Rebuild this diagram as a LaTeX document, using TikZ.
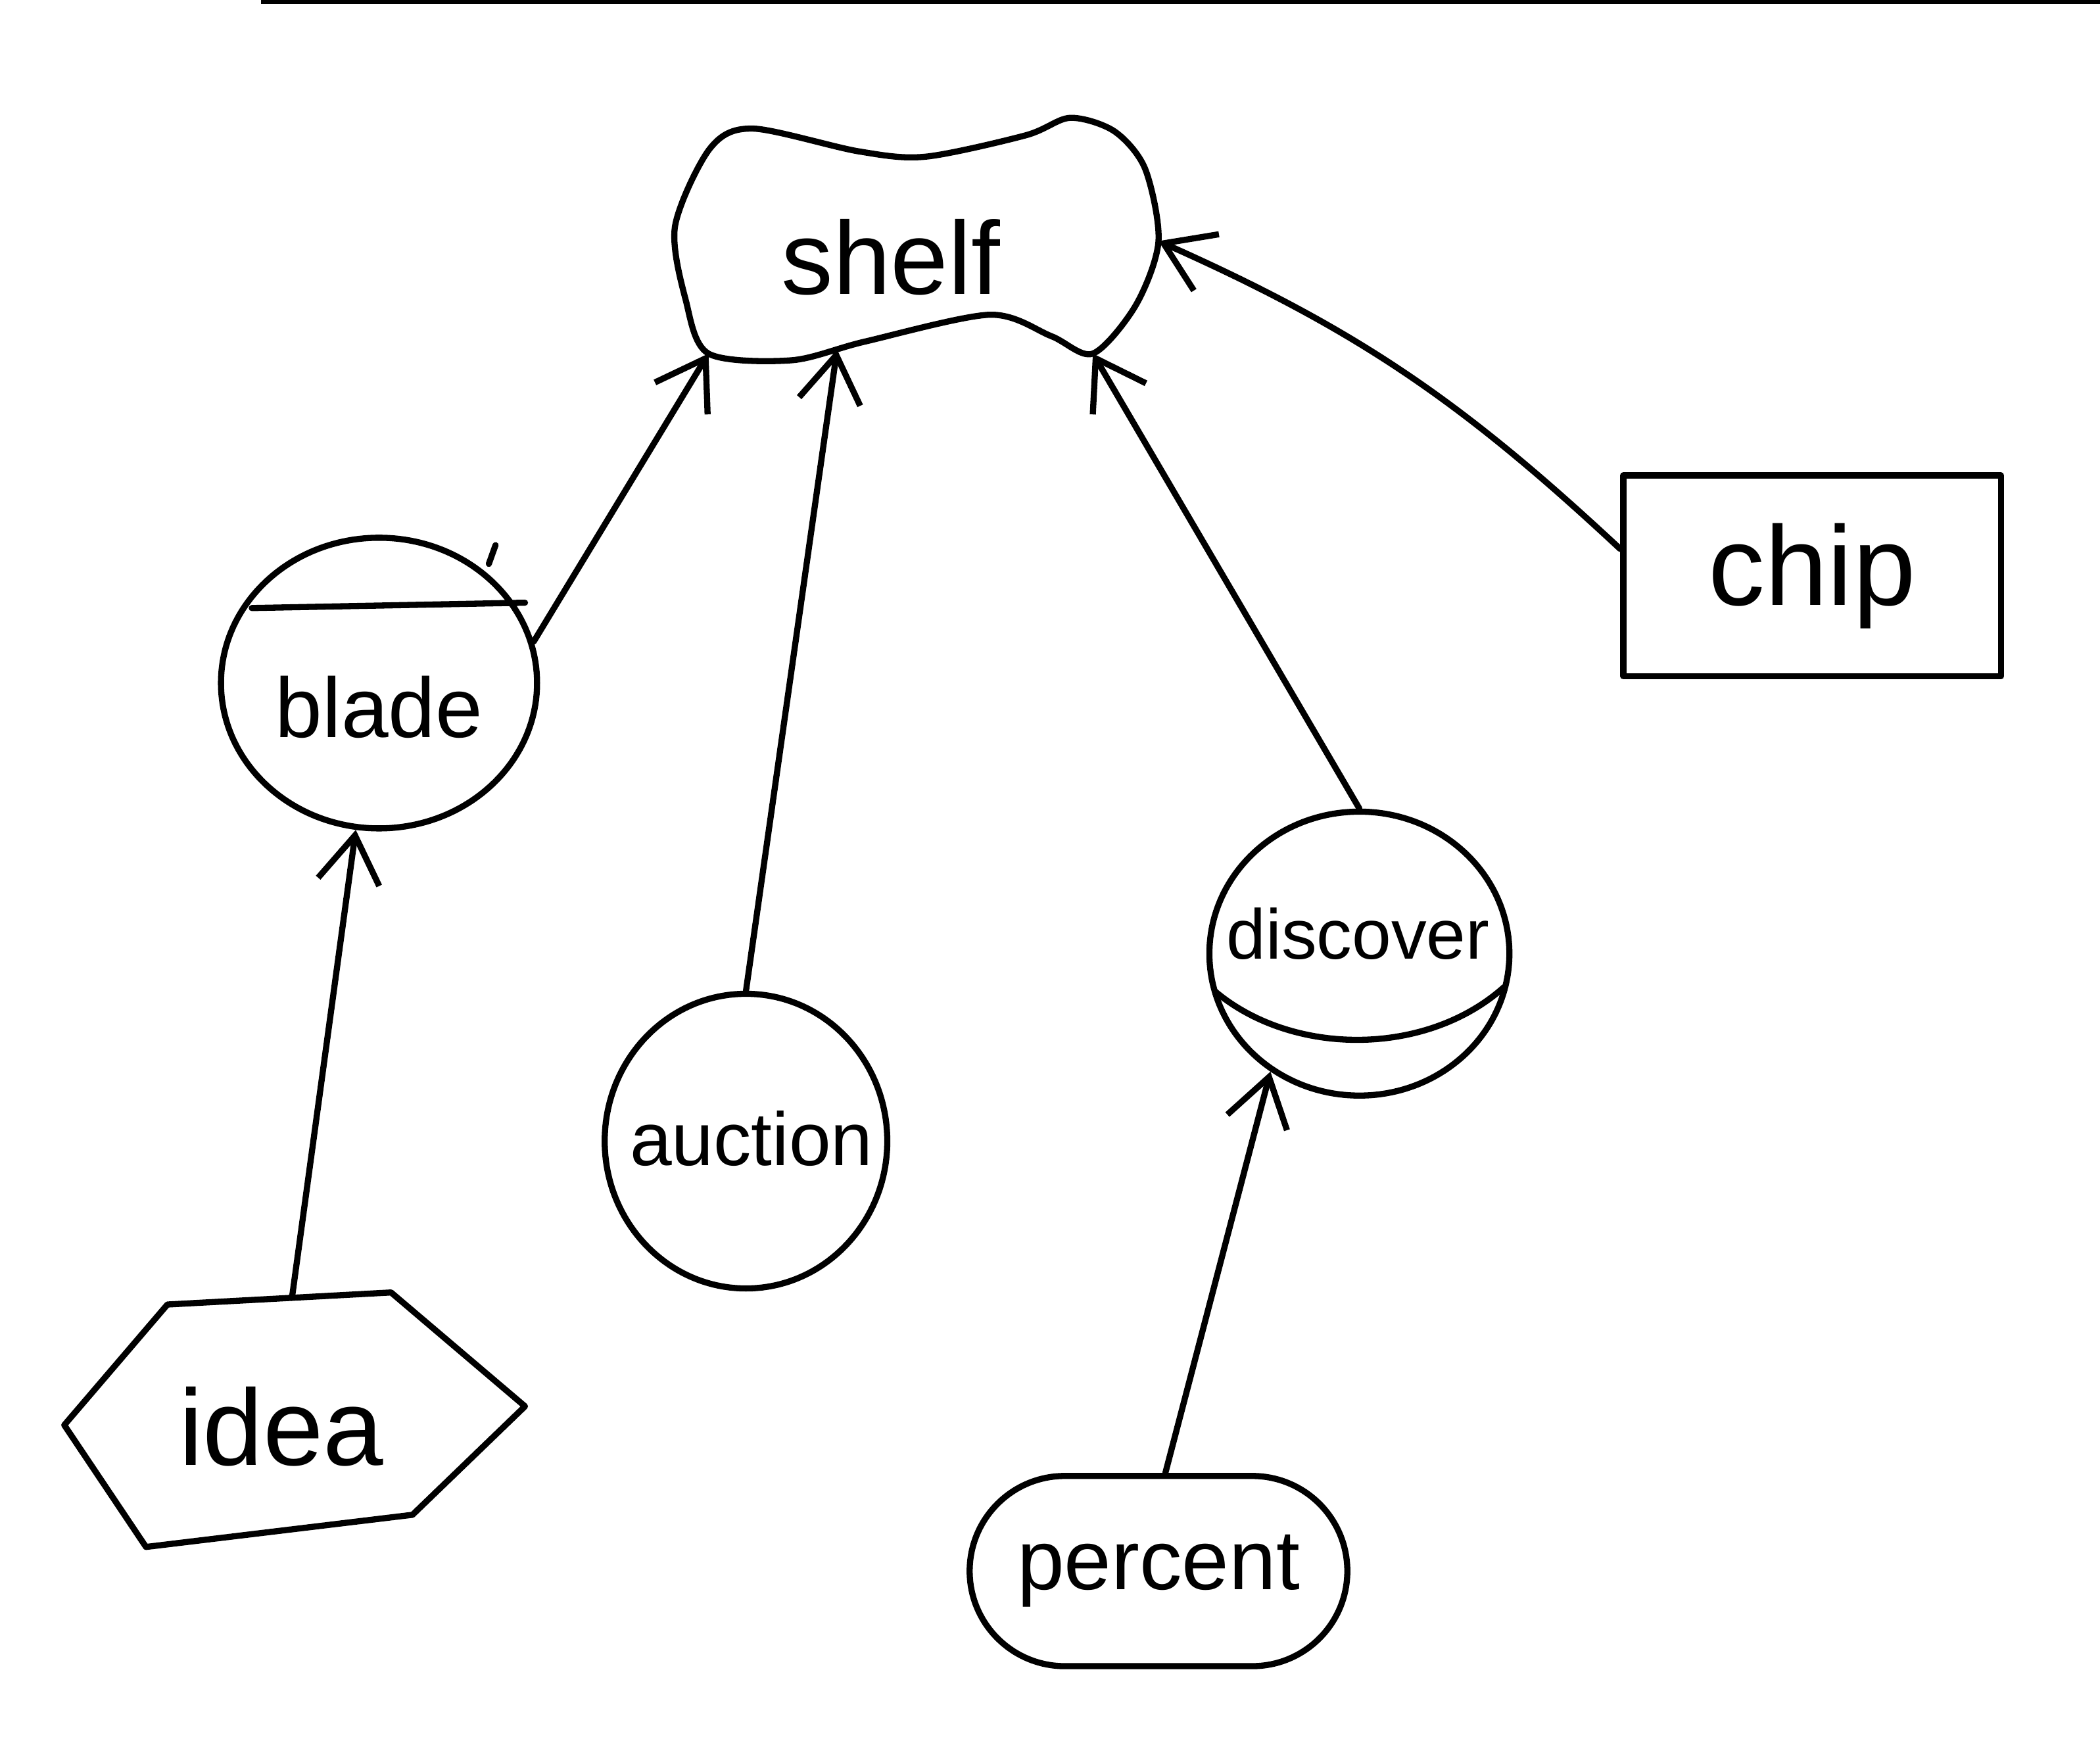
\documentclass[tikz,border=0pt]{standalone}
\usepackage{fontspec}
\setmainfont{Liberation Sans}
\usetikzlibrary{arrows.meta,shapes.geometric,shapes.misc}
\begin{document}
\begin{tikzpicture}[>={Straight Barb[length=3.5mm,width=4.6mm]},line join=round,line cap=round,line width=1.3pt,
	word/.style={font=\fontsize{#1pt}{#1pt}\selectfont,inner sep=0pt},
	ring/.style={ellipse,draw,inner sep=0pt}]
	\useasboundingbox (0,0) rectangle (15.68,13.04);
	\fill (1.95,13.01) rectangle (15.68,13.04);
	\path
	(5.29,10.40) coordinate (shelf-sw)
	(6.25,10.43) coordinate (shelf-s)
	(8.16,10.40) coordinate (shelf-se)
	(8.65,11.24) coordinate (shelf-e)
	(1.25,3.30) coordinate (H_1)
	(2.92,3.39) coordinate (H_2)
	(3.92,2.54) coordinate (H_3)
	(3.08,1.73) coordinate (H_4)
	(1.09,1.49) coordinate (H_5)
	(0.48,2.40) coordinate (H_6)
	(2.18,3.35) coordinate (idea-n)
	;
	% shelf
	\draw plot[smooth cycle,tension=0.5] coordinates {(5.30,11.93) (5.62,12.08) (6.41,11.91) (6.91,11.87) (7.66,12.03) (7.99,12.16) (8.32,12.06) (8.55,11.78) (shelf-e) (8.48,10.76) (shelf-se) (7.85,10.53) (7.39,10.69) (6.46,10.49) (5.91,10.35) (shelf-sw) (5.12,10.80) (5.04,11.35)};
	\node[word=22] (shelf) at (6.65,11.12) {shelf};
	% blade
	\node[ring,minimum width=2.36cm,minimum height=2.17cm] (blade) at (2.83,7.94) {};
	\node[word=18] (blade-txt) at (2.83,7.76) {blade};
	\draw (1.88,8.50) -- (3.92,8.54) (3.70,8.97) -- (3.65,8.83);
	% idea
	\draw (H_1)--(H_2)--(H_3)--(H_4)--(H_5)--(H_6)--cycle;
	\node[word=23] (idea) at (2.10,2.39) {idea};
	% auction
	\node[ring,minimum width=2.11cm,minimum height=2.20cm] (auction) at (5.57,4.52) {};
	\node[word=16] (auction-txt) at (5.61,4.54) {auction};
	% discover
	\node[ring,minimum width=2.24cm,minimum height=2.12cm] (discover) at (10.15,5.92) {};
	\node[word=15] (discover-txt) at (10.14,6.07) {discover};
	\draw (9.07,5.64) .. controls (9.65,5.15) and (10.65,5.15) .. (11.23,5.67);
	% percent, chip
	\node[draw,rounded rectangle,word=18,minimum width=2.82cm,minimum height=1.42cm] (percent) at (8.65,1.31) {percent};
	\node[draw,rectangle,word=24,minimum width=2.82cm,minimum height=1.50cm] (chip) at (13.53,8.74) {chip};
	% arrows
	\draw[->] (blade.15) -- (shelf-sw);
	\draw[->] (auction.north) -- (shelf-s);
	\draw[->] (discover.north) -- (shelf-se);
	\draw[->] (chip.172) to[out=137,in=-24] (shelf-e);
	\draw[->] (idea-n) -- (blade.261);
	\draw[->] (percent.86) -- (discover.233);
\end{tikzpicture}
\end{document}
